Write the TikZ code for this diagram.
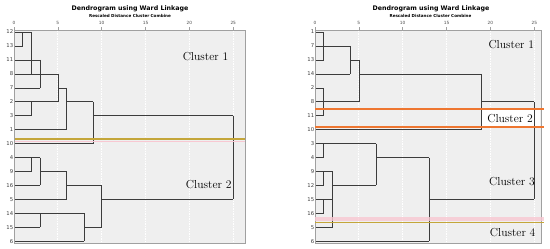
\documentclass[tikz,border=0pt]{standalone}
\usepackage{fontspec}
\newfontfamily\dejavu{DejaVu Sans}
\definecolor{plotbg}{RGB}{239,239,239}
\definecolor{frame}{RGB}{160,160,160}
\definecolor{dline}{RGB}{60,60,60}
\definecolor{cutorange}{RGB}{238,118,48}
\definecolor{cutolive}{RGB}{196,166,58}
\definecolor{cutpink}{RGB}{248,200,210}
\tikzset{
  plotbox/.style={fill=plotbg, draw=frame, line width=0.6pt},
  gridl/.style={draw=white, line width=0.8pt, dash pattern=on 1.5pt off 1pt},
  tickl/.style={draw=frame, line width=0.5pt},
  ticklab/.style={font=\dejavu\fontsize{4.3}{5}\selectfont, text=black!70, inner sep=0pt},
  rowlab/.style={font=\dejavu\fontsize{5.3}{6}\selectfont, text=black!75, inner sep=0pt, anchor=east},
  dendro/.style={draw=dline, line width=0.6pt},
  titlelab/.style={font=\dejavu\bfseries\fontsize{6.3}{7}\selectfont, inner sep=0pt},
  sublab/.style={font=\dejavu\bfseries\fontsize{4.1}{5}\selectfont, inner sep=0pt},
  clusterlab/.style={font=\fontsize{11.6}{13}\selectfont, inner sep=0pt},
}
\begin{document}
\begin{tikzpicture}[x=1pt,y=-1pt]
\useasboundingbox (0,0) rectangle (550,249);
\fill[white] (0,0) rectangle (550,249);

% ---------------- LEFT PANEL ----------------
\node[titlelab] (ltitle) at (130,8.3) {Dendrogram using Ward Linkage};
\node[sublab] (lsub) at (130,16) {Rescaled Distance Cluster Combine};
\begin{scope}[shift={(14pt,-32pt)}, x=8.77pt, y=-13.95pt]
  \draw[plotbox] (0,-0.143) rectangle (26.34,15.13);
  \foreach \d in {5,10,15,20,25} \draw[gridl] (\d,-0.1) -- (\d,15.1);
  \foreach \d in {0,5,10,15,20,25} {
    \draw[tickl] (\d,-0.143) -- (\d,-0.36);
    \node[ticklab] (lt\d) at (\d,-0.667) {\d};
  }
  \foreach \lab [count=\i from 0] in {12,13,11,8,7,2,3,1,10,4,9,16,5,14,15,6}
    \node[rowlab] (lr\lab) at (-0.07,\i) {\lab};
  \foreach \r/\a/\b in {0/0/2, 1/0/1, 2/0/3, 3/0/5, 4/0/3, 4/5/6, 5/0/5, 5/6/9, 6/0/2, 6/9/25, 7/0/6, 8/0/9, 9/0/3, 10/0/2, 10/3/6, 11/0/3, 11/6/10, 12/0/6, 12/10/25, 13/0/8, 14/0/3, 14/8/10, 15/0/8}
    \draw[dendro] ({max(\a,0.1)},\r) -- (\b,\r);
  \foreach \d/\a/\b in {1/0/1, 2/0/3, 3/2/4, 5/3/5, 2/5/6, 6/4/7, 9/5/8, 25/6/12, 2/9/10, 3/9/11, 6/10/12, 3/13/14, 8/13/15, 10/11/14}
    \draw[dendro] (\d,\a) -- (\d,\b);
  % cut line
  \draw[cutpink, line width=1pt] (0.1,7.86) -- (26.34,7.86);
  \draw[cutolive, line width=1.8pt] (0.1,7.67) -- (26.34,7.67);
  \node[clusterlab] (lc1) at (21.84,1.77) {Cluster 1};
  \node[clusterlab] (lc2) at (22.2,10.97) {Cluster 2};
\end{scope}

% ---------------- RIGHT PANEL ----------------
\node[titlelab] (rtitle) at (431,8.3) {Dendrogram using Ward Linkage};
\node[sublab] (rsub) at (430.5,16) {Rescaled Distance Cluster Combine};
\begin{scope}[shift={(315pt,-32pt)}, x=8.77pt, y=-13.95pt]
  \draw[plotbox] (0,-0.143) rectangle (25.77,15.13);
  \foreach \d in {5,10,15,20,25} \draw[gridl] (\d,-0.1) -- (\d,15.1);
  \foreach \d in {0,5,10,15,20,25} {
    \draw[tickl] (\d,-0.143) -- (\d,-0.36);
    \node[ticklab] (rt\d) at (\d,-0.667) {\d};
  }
  \fill[white] (19,5.5) rectangle (25.7,6.83);
  \foreach \lab [count=\i from 0] in {1,7,13,14,2,8,11,10,3,4,9,12,15,16,5,6}
    \node[rowlab] (rr\lab) at (-0.07,\i) {\lab};
  \foreach \r/\a/\b in {0/0/1, 1/0/4, 2/0/1, 2/4/5, 3/0/4, 3/5/19, 4/0/1, 5/0/5, 5/19/25, 6/0/1, 7/0/19, 8/0/7, 9/0/1, 9/7/13, 10/0/2, 11/0/1, 11/2/7, 12/0/2, 12/13/25, 13/0/1, 14/0/2, 15/0/13}
    \draw[dendro] ({max(\a,0.1)},\r) -- (\b,\r);
  \foreach \d/\a/\b in {1/0/2, 4/1/3, 5/2/5, 1/4/6, 19/3/7, 25/5/12, 1/8/9, 7/8/11, 1/10/11, 2/10/14, 1/12/13, 13/9/15}
    \draw[dendro] (\d,\a) -- (\d,\b);
  % cut lines
  \draw[cutorange, line width=1.8pt] (0.05,5.5) -- (26.1,5.5);
  \draw[cutorange, line width=1.8pt] (0.05,6.83) -- (26.1,6.83);
  \fill[cutpink, opacity=0.8] (0.05,13.24) rectangle (26.1,13.56);
  \draw[cutolive, line width=1.8pt] (0.05,13.66) -- (26.1,13.66);
  \node[clusterlab] (rc1) at (22.38,0.88) {Cluster 1};
  \node[clusterlab] (rc2) at (22.24,6.19) {Cluster 2};
  \node[clusterlab] (rc3) at (22.46,10.73) {Cluster 3};
  \node[clusterlab] (rc4) at (22.54,14.39) {Cluster 4};
\end{scope}
\end{tikzpicture}
\end{document}
